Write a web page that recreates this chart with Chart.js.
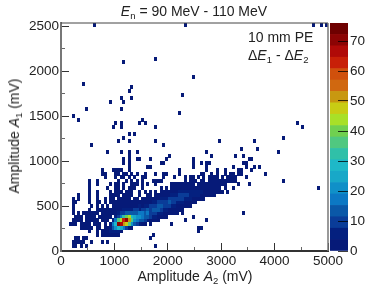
<!DOCTYPE html>
<html>
<head>
<meta charset="utf-8">
<script src="https://cdn.jsdelivr.net/npm/chart.js@4"></script>
<style>
  html, body { margin: 0; padding: 0; background: #fff; }
  body { position: relative; width: 382px; height: 286px; overflow: hidden; font-family: "Liberation Sans", sans-serif; color: #222; }
  canvas { position: absolute; top: 0; }
  #main { left: 0; }
  #scale { left: 320px; }
  .label { position: absolute; font-size: 14px; line-height: 16px; white-space: nowrap; }
  .label i { font-style: italic; }
  .label sub { font-size: 9.5px; line-height: 0; vertical-align: -3px; }
  #title { left: 194px; top: 3px; transform: translateX(-50%); }
  #xtitle { left: 195px; top: 268px; transform: translateX(-50%); }
  #ytitle { left: 14px; top: 136px; transform: translate(-50%, -50%) rotate(-90deg); }
  #note1 { left: 248px; top: 29px; }
  #note2 { left: 248px; top: 47px; }
</style>
</head>
<body>
<canvas id="main" width="382" height="286"></canvas>
<canvas id="scale" width="62" height="286"></canvas>
<div class="label" id="title"><i>E</i><sub>n</sub> = 90 MeV - 110 MeV</div>
<div class="label" id="xtitle">Amplitude <i>A</i><sub>2</sub> (mV)</div>
<div class="label" id="ytitle">Amplitude <i>A</i><sub>1</sub> (mV)</div>
<div class="label" id="note1">10 mm PE</div>
<div class="label" id="note2">Δ<i>E</i><sub>1</sub> - Δ<i>E</i><sub>2</sub></div>
<script>
const binA2 = 50;
const binA1 = 40;

// dense part: lower edge of A1 row, lower edge of first A2 bin, counts per bin
const ridgeA1 = [200, 240, 280, 320, 360, 400, 440, 480, 520, 560, 600, 640, 680];
const ridgeStartA2 = [850, 900, 900, 950, 1000, 1050, 1000, 1150, 1200, 1250, 1300, 1650, 1850];
const ridgeCounts = [
  [3, 4, 5, 6, 5, 3],
  [6, 12, 22, 28, 26, 18, 8, 3, 2],
  [3, 16, 30, 70, 66, 52, 46, 36, 20, 14, 8, 5, 3, 2, 0, 1],
  [6, 18, 36, 44, 62, 72, 50, 36, 22, 16, 14, 12, 8, 6, 3, 2, 1],
  [6, 10, 18, 34, 40, 44, 30, 24, 20, 20, 18, 14, 12, 8, 7, 5, 3, 2, 1, 1],
  [5, 8, 10, 14, 12, 14, 14, 14, 16, 18, 14, 16, 10, 10, 8, 6, 5, 3, 3, 2, 1, 1, 1],
  [2, 3, 3, 4, 6, 5, 6, 8, 8, 7, 8, 10, 12, 10, 14, 14, 12, 10, 7, 5, 3, 3, 2, 2, 1, 1],
  [2, 2, 3, 2, 3, 3, 4, 3, 4, 6, 8, 9, 10, 12, 12, 10, 9, 8, 5, 4, 3, 2, 2, 2, 1, 1],
  [1, 2, 1, 2, 1, 2, 2, 2, 3, 2, 4, 6, 8, 9, 10, 10, 12, 10, 8, 7, 5, 4, 3, 2, 2, 1, 1],
  [1, 0, 1, 1, 0, 1, 1, 1, 2, 2, 2, 3, 4, 5, 7, 8, 9, 10, 9, 8, 8, 6, 5, 4, 3, 2, 1, 1, 1],
  [1, 0, 0, 1, 0, 0, 1, 1, 0, 1, 1, 1, 2, 2, 3, 4, 5, 7, 8, 9, 8, 8, 7, 6, 5, 4, 3, 2, 2, 1, 1, 1],
  [1, 0, 1, 0, 1, 1, 1, 2, 2, 3, 3, 4, 5, 5, 6, 7, 6, 5, 5, 4, 3, 2, 2, 1, 1, 1, 1, 1, 0, 1],
  [1, 0, 1, 0, 1, 1, 2, 2, 2, 3, 3, 3, 3, 3, 2, 2, 2, 2, 2, 1, 2, 1, 1, 0, 1, 0, 0, 1],
];

// single-count bins: A1 lower edge and the A2 lower edges filled in that row
const sparseA1 = [
  40, 80, 120, 160, 200, 240, 280, 320, 360, 400, 440, 480, 520, 560, 600, 640, 680, 720, 760, 800, 840,
  880, 920, 960, 1000, 1040, 1080, 1120, 1160, 1200, 1240, 1280, 1360, 1400, 1440, 1480, 1520, 1560,
  1640, 1680, 1720, 1760, 1800, 1840, 1920, 2080, 2120, 2500,
];
const sparseA2 = [
  [200, 250, 350, 450, 1750],
  [200, 250, 300, 350, 400, 550, 750, 850],
  [250, 300, 400, 450, 1650],
  [650, 750, 800, 850, 900, 950, 1000, 1050, 1700],
  [500, 650, 750, 800, 2550],
  [350, 400, 450, 500, 550, 650, 700, 800, 850, 2550, 2600],
  [150, 200, 250, 350, 400, 450, 500, 600, 650, 700, 800, 2050],
  [200, 250, 300, 350, 450, 500, 550, 600, 650, 750, 800, 850, 1800, 2300, 2700],
  [250, 300, 350, 450, 500, 550, 600, 700, 750, 800, 850, 900, 2450],
  [200, 300, 400, 450, 500, 550, 600, 650, 750, 800, 850, 900, 950, 1000, 2250, 3400],
  [200, 500, 650, 700, 750, 800, 850, 900, 950],
  [200, 550, 650, 750, 850, 950, 1000, 1050, 1100],
  [200, 250, 500, 650, 700, 800, 900, 950, 1000, 1050, 1100, 1150],
  [200, 300, 500, 650, 800, 900, 950, 1050, 1100, 1150, 1200],
  [300, 500, 650, 900, 950, 1000, 1050, 1150, 1200, 1250],
  [500, 650, 900, 1000, 1050, 1100, 1200, 1250, 1300, 1450, 1550],
  [500, 850, 1000, 1050, 1150, 1250, 1300, 1350, 1500, 4800],
  [500, 650, 900, 1000, 1050, 1150, 1300, 1350, 1400, 1500, 1600, 1750, 2050, 2100, 2150, 2200, 2250, 2300, 2350, 2400, 2450, 2550, 2600, 2650, 2700, 2750, 2800, 2850, 2900, 2950, 3000, 3050, 3300, 3500],
  [500, 650, 1050, 1200, 1300, 1400, 1500, 1700, 1750, 1800, 1850, 2300, 2400, 2450, 2500, 2600, 2650, 2750, 2800, 2850, 2900, 2950, 3000, 3050, 3100, 3150, 3200, 3250, 4150],
  [800, 1000, 1100, 1150, 1250, 1350, 1500, 1550, 1900, 2100, 2300, 2400, 2450, 2550, 2650, 2750, 2800, 2850, 2900, 3000, 3100, 3150, 3200, 3250, 3450],
  [750, 800, 1000, 1050, 1150, 1200, 1300, 1400, 1550, 1750, 1900, 1950, 2200, 2600, 2650, 2800, 2900, 3050, 3150, 3200, 3300, 3350, 3800],
  [750, 950, 1000, 1050, 1100, 1250, 2200, 2700, 2900, 3050, 3300, 3350, 3550],
  [1250, 1600, 1650, 2450, 2700, 3200, 3450, 3600, 3700],
  [1150, 1250, 1850, 1900, 2450, 2600, 2700, 2750, 3400, 3450],
  [1150, 1250, 1400, 1450, 1650, 1950, 2450, 3500, 3550],
  [1250, 2000, 2800, 3250, 3400],
  [850, 1100, 1250, 1400, 2700, 4050],
  [3350, 3650],
  [550, 1900],
  [1050, 1250, 1750, 2950, 3600],
  [1150, 4150],
  [1250, 1350],
  [950, 1100, 1750, 4500],
  [1000, 1100, 1450, 1550, 4400],
  [300, 1500],
  [200],
  [2200],
  [450, 1100],
  [900, 1150],
  [1100, 1300],
  [2250],
  [1250],
  [1300],
  [400],
  [2450],
  [1150],
  [1750],
  [600, 2300, 4700, 4850, 4950],
];

// axis ticks
const a2Ticks = [0, 1000, 2000, 3000, 4000, 5000];
const a2MinorTicks = [500, 1500, 2500, 3500, 4500];
const a1Ticks = [0, 500, 1000, 1500, 2000, 2500];
const a1MinorTicks = [250, 750, 1250, 1750, 2250];

// colour scale, bottom to top
const bandEdges = [0, 3.8, 7.6, 11.4, 15.2, 19, 22.8, 26.6, 30.4, 34.2, 38, 41.8, 45.6, 49.4, 53.2, 57, 60.8, 64.6, 68.4, 72.2, 76];
const bandColors = [
  "#061a78", "#04207f", "#0a3c98", "#0a58a8", "#0c78c4", "#1090c8", "#18a8c8", "#1eb8c8", "#30c0a8", "#50c880",
  "#70d050", "#a8e028", "#c8cc14", "#c89810", "#d06810", "#d0500c", "#c82008", "#b00a08", "#8c0404", "#6e0000",
];
const scaleTicks = [0, 10, 20, 30, 40, 50, 60, 70];

const cells = [];
sparseA1.forEach((a1, r) => {
  sparseA2[r].forEach((a2) => cells.push({ x: a2 + binA2 / 2, y: a1 + binA1 / 2, n: 1 }));
});
ridgeA1.forEach((a1, r) => {
  ridgeCounts[r].forEach((n, k) => {
    if (n > 0) cells.push({ x: ridgeStartA2[r] + k * binA2 + binA2 / 2, y: a1 + binA1 / 2, n });
  });
});
cells.sort((a, b) => a.n - b.n);

const bandOf = (n) => Math.min(bandColors.length - 1, Math.floor((n / 76) * bandColors.length));

// one small tile per colour band, used as the point style
const tiles = bandColors.map((c) => {
  const tile = document.createElement("canvas");
  tile.width = 3;
  tile.height = 4;
  const g = tile.getContext("2d");
  g.fillStyle = c;
  g.fillRect(0, 0, 3, 4);
  return tile;
});

const useTicks = (list) => (s) => {
  s.ticks = list.map((value) => ({ value }));
};

const frame = {
  id: "frame",
  afterDraw(chart) {
    const { ctx, chartArea: a } = chart;
    ctx.save();
    ctx.strokeStyle = "#444";
    ctx.lineWidth = 1;
    ctx.beginPath();
    ctx.moveTo(a.left, a.top);
    ctx.lineTo(a.right, a.top);
    ctx.stroke();
    ctx.strokeStyle = "#777";
    ctx.lineWidth = 1.5;
    ctx.beginPath();
    ctx.moveTo(a.right, a.top);
    ctx.lineTo(a.right, a.bottom);
    ctx.stroke();
    ctx.restore();
  },
};

const tickFont = { family: "Liberation Sans", size: 13.5 };

new Chart("main", {
  type: "scatter",
  data: {
    datasets: [
      {
        data: cells,
        pointStyle: (c) => tiles[bandOf(c.raw.n)],
        pointRadius: 2,
      },
    ],
  },
  plugins: [frame],
  options: {
    responsive: false,
    animation: false,
    events: [],
    layout: { padding: { top: 23, right: 54, left: 0, bottom: 0 } },
    plugins: { legend: { display: false }, tooltip: { enabled: false } },
    scales: {
      x: {
        type: "linear",
        position: "bottom",
        min: 0,
        max: 5000,
        weight: 1,
        afterFit: (s) => { s.height = 35; },
        afterBuildTicks: useTicks(a2Ticks),
        // border z above grid z, the border value is only known after the grid pass
        border: { color: "#333", width: 2, z: 2 },
        grid: { drawOnChartArea: false, tickLength: -8, color: "#333", z: 1 },
        ticks: { padding: 10, maxRotation: 0, autoSkip: false, color: "#222", font: tickFont, callback: (v) => String(v) },
      },
      xMinor: {
        type: "linear",
        axis: "x",
        position: "bottom",
        min: 0,
        max: 5000,
        weight: 0,
        afterFit: (s) => { s.height = 0; },
        afterBuildTicks: useTicks(a2MinorTicks),
        border: { display: false },
        grid: { drawOnChartArea: false, tickLength: -4, color: "#666", z: 1 },
        ticks: { display: false, autoSkip: false },
      },
      y: {
        type: "linear",
        position: "left",
        min: 0,
        max: 2537,
        weight: 1,
        afterFit: (s) => { s.width = 61; },
        afterBuildTicks: useTicks(a1Ticks),
        border: { color: "#777", width: 2, z: 2 },
        grid: { drawOnChartArea: false, tickLength: -8, color: "#333", z: 1 },
        ticks: { padding: 10, autoSkip: false, color: "#222", font: tickFont, callback: (v) => String(v) },
      },
      yMinor: {
        type: "linear",
        axis: "y",
        position: "left",
        min: 0,
        max: 2537,
        weight: 0,
        afterFit: (s) => { s.width = 0; },
        afterBuildTicks: useTicks(a1MinorTicks),
        border: { display: false },
        grid: { drawOnChartArea: false, tickLength: -4, color: "#666", z: 1 },
        ticks: { display: false, autoSkip: false },
      },
    },
  },
});

new Chart("scale", {
  type: "bar",
  data: {
    labels: ["counts"],
    datasets: bandColors.map((c, i) => ({
      data: [[bandEdges[i], bandEdges[i + 1]]],
      backgroundColor: c,
      borderWidth: 0,
      grouped: false,
      barPercentage: 1,
      categoryPercentage: 1,
    })),
  },
  options: {
    responsive: false,
    animation: false,
    events: [],
    layout: { padding: { top: 23, left: 10, right: 0, bottom: 35 } },
    plugins: { legend: { display: false }, tooltip: { enabled: false } },
    scales: {
      x: { display: false },
      y: {
        position: "right",
        min: 0,
        max: 76,
        afterFit: (s) => { s.width = 34; },
        afterBuildTicks: useTicks(scaleTicks),
        border: { display: false },
        grid: { drawOnChartArea: false, tickLength: -10, color: "rgba(0,0,0,0.75)", z: 1 },
        ticks: { padding: 12, color: "#222", autoSkip: false, font: tickFont },
      },
    },
  },
});
</script>
</body>
</html>
